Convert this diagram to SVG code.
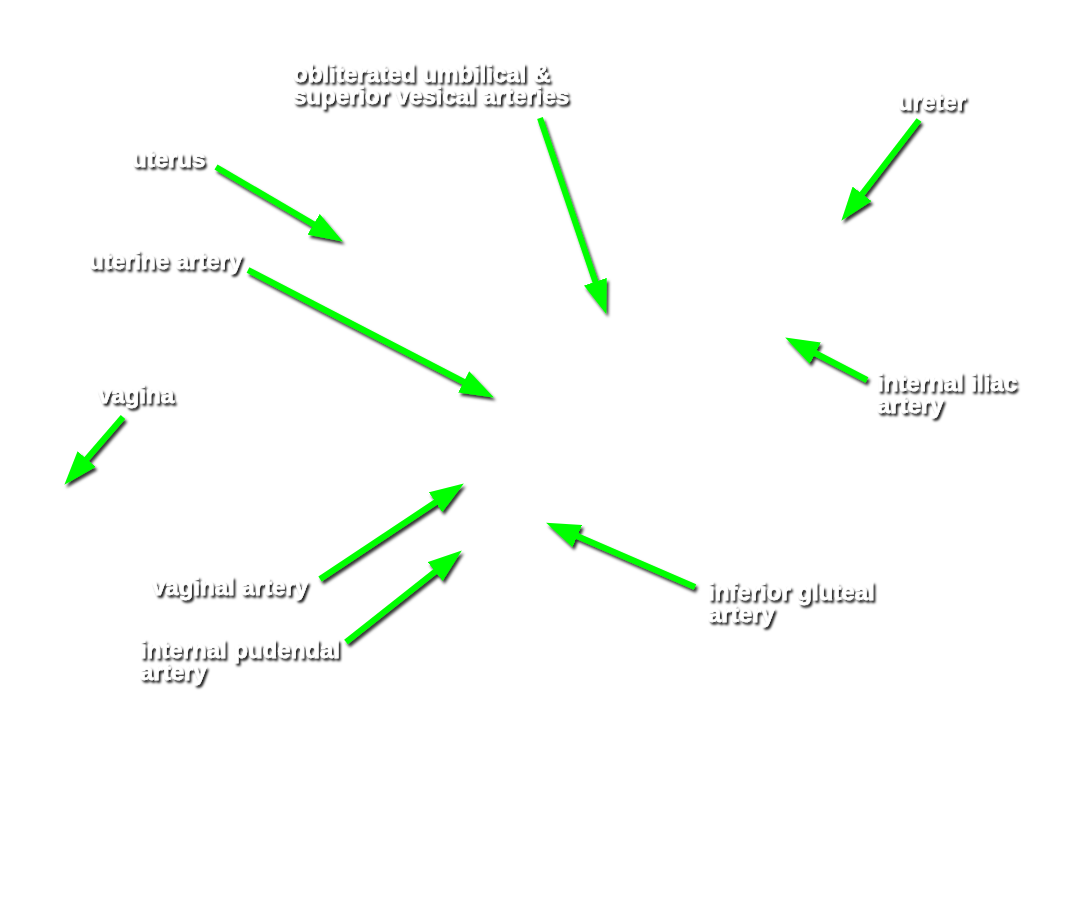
<svg xmlns="http://www.w3.org/2000/svg" width="1087" height="900" viewBox="0 0 1087 900">
  <style>
    .lbl { font-family: "Liberation Sans", Arial, sans-serif; font-weight: bold; font-size: 24px; fill: #ffffff; stroke: #ffffff; stroke-width: 0.5; filter: url(#tshadow); }
    .arr { stroke: #00ff00; stroke-width: 6; fill: none; marker-end: url(#head); }
  </style>
  <defs>
    <filter id="shadow" x="-20%" y="-20%" width="140%" height="160%">
      <feDropShadow dx="2" dy="3" stdDeviation="1.8" flood-color="#000000" flood-opacity="0.8"/>
    </filter>
    <filter id="tshadow" x="-20%" y="-30%" width="140%" height="180%">
      <feDropShadow dx="2" dy="2.5" stdDeviation="1.3" flood-color="#000000" flood-opacity="0.9"/>
    </filter>
    <marker id="head" markerUnits="userSpaceOnUse" viewBox="0 0 34 24" markerWidth="34" markerHeight="24" refX="21" refY="12" orient="auto">
      <path d="M0,0 L34,12 L0,24 Z" fill="#00ff00"/>
    </marker>
  </defs>
  <rect width="1087" height="900" fill="#ffffff"/>
  <g id="connectors" filter="url(#shadow)">
    <line class="arr" x1="216" y1="167" x2="331.7" y2="234.9"/>
    <line class="arr" x1="248" y1="270" x2="482.3" y2="391.5"/>
    <line class="arr" x1="540" y1="118" x2="602.1" y2="301.6"/>
    <line class="arr" x1="919" y1="120" x2="849.3" y2="210.5"/>
    <line class="arr" x1="867" y1="380" x2="796.7" y2="343.5"/>
    <line class="arr" x1="123" y1="417" x2="72.9" y2="474.9"/>
    <line class="arr" x1="320" y1="579" x2="453" y2="490.6"/>
    <line class="arr" x1="346" y1="642" x2="451.6" y2="558.5"/>
    <line class="arr" x1="695" y1="587" x2="558" y2="527.8"/>
  </g>
  <g id="label-uterus"><text class="lbl" x="132" y="167">uterus</text></g>
  <g id="label-uterine-artery"><text class="lbl" x="89" y="269">uterine artery</text></g>
  <g id="label-obliterated"><text class="lbl" x="293" y="82">obliterated umbilical &amp;</text><text class="lbl" x="293" y="104">superior vesical arteries</text></g>
  <g id="label-ureter"><text class="lbl" x="898" y="110">ureter</text></g>
  <g id="label-internal-iliac"><text class="lbl" x="877" y="391">internal iliac</text><text class="lbl" x="877" y="413">artery</text></g>
  <g id="label-vagina"><text class="lbl" x="98" y="403">vagina</text></g>
  <g id="label-vaginal-artery"><text class="lbl" x="152" y="595">vaginal artery</text></g>
  <g id="label-internal-pudendal"><text class="lbl" x="140" y="658">internal pudendal</text><text class="lbl" x="140" y="680">artery</text></g>
  <g id="label-inferior-gluteal"><text class="lbl" x="708" y="600">inferior gluteal</text><text class="lbl" x="708" y="622">artery</text></g>
</svg>
